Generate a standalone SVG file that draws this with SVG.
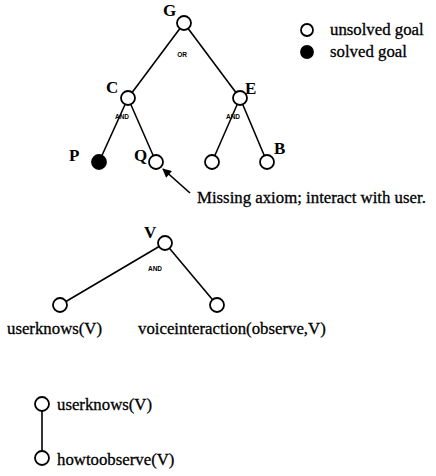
<svg xmlns="http://www.w3.org/2000/svg" width="436" height="476" viewBox="0 0 436 476">
<style>
.e{stroke:#000;stroke-width:1.6;fill:none}
.n{fill:#fff;stroke:#000;stroke-width:1.8}
.s{fill:#000;stroke:#000;stroke-width:1.8}
.l{font-family:"Liberation Serif",serif;font-size:17px;font-weight:bold;fill:#000}
.t{font-family:"Liberation Serif",serif;font-size:16.8px;fill:#000;stroke:#000;stroke-width:0.3}
.k{font-family:"Liberation Sans",sans-serif;font-size:6.5px;font-weight:bold;fill:#000;text-anchor:middle}
</style>
<defs>
<marker id="ah" viewBox="0 0 10 10" refX="9" refY="5" markerWidth="10" markerHeight="9" orient="auto" markerUnits="userSpaceOnUse">
<path d="M0,0 L10,5 L0,10 z" fill="#000"/>
</marker>
</defs>
<g id="connectors">
<line class="e" x1="184" y1="23" x2="128" y2="98"/>
<line class="e" x1="184" y1="23" x2="240" y2="98"/>
<line class="e" x1="128" y1="98" x2="99" y2="162"/>
<line class="e" x1="128" y1="98" x2="156" y2="162"/>
<line class="e" x1="240" y1="98" x2="212" y2="162"/>
<line class="e" x1="240" y1="98" x2="267" y2="162"/>
<line class="e" x1="190" y1="193" x2="163" y2="169" marker-end="url(#ah)"/>
<line class="e" x1="165" y1="243" x2="60" y2="305"/>
<line class="e" x1="165" y1="243" x2="217" y2="305"/>
<line class="e" x1="42" y1="404" x2="42" y2="458"/>
</g>
<g id="node-G"><circle class="n" cx="184" cy="23" r="7"/><text class="l" x="163" y="16">G</text></g>
<text class="k" x="182" y="57">OR</text>
<g id="node-C"><circle class="n" cx="128" cy="98" r="7"/><text class="l" x="106" y="93">C</text></g>
<text class="k" x="122" y="119">AND</text>
<g id="node-E"><circle class="n" cx="240" cy="98" r="7"/><text class="l" x="245" y="94">E</text></g>
<text class="k" x="233" y="119">AND</text>
<g id="node-P"><circle class="s" cx="99" cy="162" r="7"/><text class="l" x="69" y="161">P</text></g>
<g id="node-Q"><circle class="n" cx="156" cy="162" r="7"/><text class="l" x="134" y="161">Q</text></g>
<g id="node-E1"><circle class="n" cx="212" cy="162" r="7"/></g>
<g id="node-B"><circle class="n" cx="267" cy="162" r="7"/><text class="l" x="274" y="154">B</text></g>
<text class="t" x="197" y="203">Missing axiom; interact with user.</text>
<g id="legend">
<circle class="n" cx="307" cy="30" r="6"/><text class="t" x="330" y="35">unsolved goal</text>
<circle class="s" cx="307" cy="52" r="6"/><text class="t" x="330" y="57">solved goal</text>
</g>
<g id="node-V"><circle class="n" cx="165" cy="243" r="7"/><text class="l" x="144" y="238">V</text></g>
<text class="k" x="155" y="271">AND</text>
<g id="node-userknows"><circle class="n" cx="60" cy="305" r="7"/><text class="t" x="7" y="334">userknows(V)</text></g>
<g id="node-voice"><circle class="n" cx="217" cy="305" r="7"/><text class="t" x="138" y="334">voiceinteraction(observe,V)</text></g>
<g id="node-uk2"><circle class="n" cx="42" cy="404" r="7"/><text class="t" x="57" y="410">userknows(V)</text></g>
<g id="node-how"><circle class="n" cx="42" cy="458" r="7"/><text class="t" x="57" y="465">howtoobserve(V)</text></g>
</svg>
